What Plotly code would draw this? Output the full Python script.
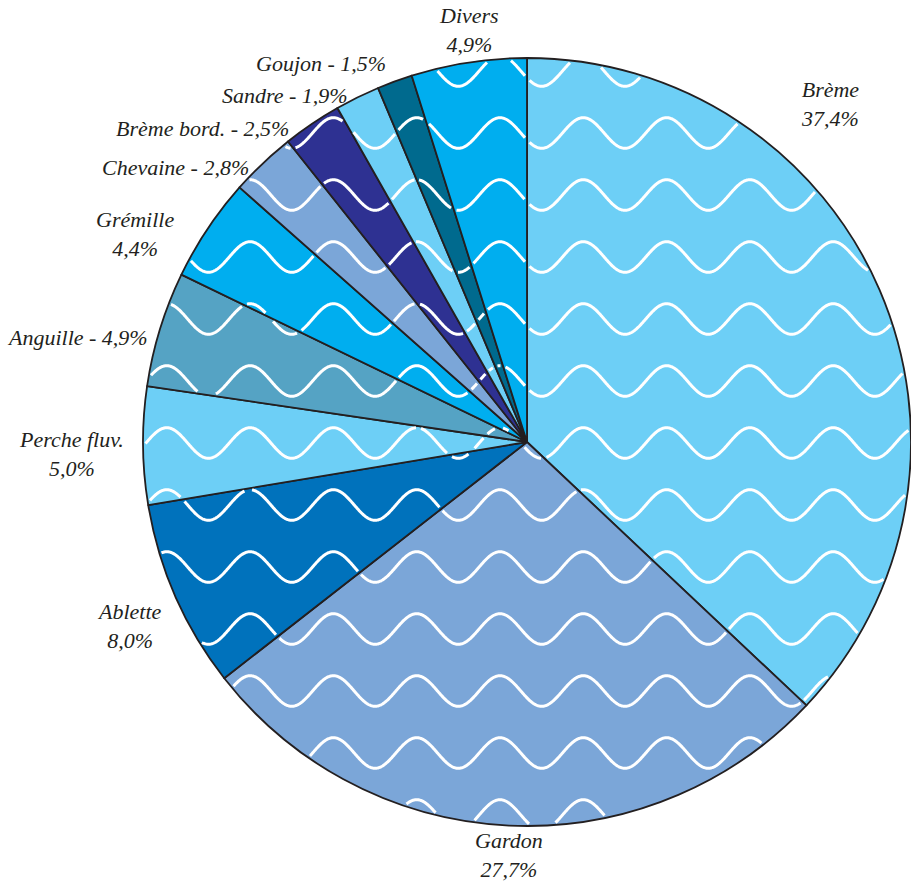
import numpy as np
import plotly.graph_objects as go

# ---------------- data ----------------
labels = ["Brème", "Gardon", "Ablette", "Perche fluv.", "Anguille", "Grémille",
          "Chevaine", "Brème bord.", "Sandre", "Goujon", "Divers"]
values = [37.4, 27.7, 8.0, 5.0, 4.9, 4.4, 2.8, 2.5, 1.9, 1.5, 4.9]
colors = ["#6DCFF6", "#7BA6D8", "#0072BC", "#6DCFF6", "#55A3C4", "#00AEEF",
          "#7BA6D8", "#2E3192", "#6DCFF6", "#006A8E", "#00AEEF"]
two_line = [True, True, True, True, False, True, False, False, False, False, True]

# ---------------- layout constants ----------------
W, H = 911, 883
CX, CY, R = 527, 442, 384
TXT = "#231F20"
FONT = dict(family="Liberation Serif, Times New Roman, serif", size=22, color=TXT, style="italic")

# label anchor positions in pixels (x center, y center of the label block)
label_pos = {
    "Brème": (830, 104), "Gardon": (509, 855), "Ablette": (129, 626),
    "Perche fluv.": (71, 454), "Anguille": (77, 337), "Grémille": (135, 234),
    "Chevaine": (175, 168), "Brème bord.": (202, 128), "Sandre": (285, 95),
    "Goujon": (321, 63), "Divers": (469, 30),
}

fig = go.Figure(go.Pie(
    labels=labels, values=values, sort=False, direction="clockwise", rotation=0,
    marker=dict(colors=colors, line=dict(color=TXT, width=1.8)),
    textinfo="none", hoverinfo="label+value", showlegend=False,
    domain=dict(x=[(CX - R) / W, min(1.0, (CX + R) / W)],
                y=[1 - (CY + R) / H, 1 - (CY - R) / H]),
))

def fmt(v):
    return f"{v:.1f}".replace(".", ",") + "%"

ann = []
for lab, val, tl in zip(labels, values, two_line):
    px, py = label_pos[lab]
    text = f"{lab}<br>{fmt(val)}" if tl else f"{lab} - {fmt(val)}"
    ann.append(dict(text=text, x=px / W, y=1 - py / H,
                    xref="paper", yref="paper", xanchor="center", yanchor="middle",
                    align="center", showarrow=False, font=FONT, borderpad=0))

# ---------------- decorative wave texture (clipped to the pie) ----------------
period, spacing, amp = 83.3, 62.0, 15.3
x_ref, y_ref = 500.0, 71.0
tot = float(sum(values))
bounds = np.cumsum([0.0] + values) / tot * 2 * np.pi
xs = np.arange(CX - R, CX + R + 0.5, 0.5)
path_parts = []
for k in range(-2, 16):
    ym = y_ref + spacing * k
    ys = ym - amp * np.cos(2 * np.pi * (xs - x_ref) / period)
    dx, dy = xs - CX, ys - CY
    rho = np.hypot(dx, dy)
    ok = rho <= R - 2.0
    th = np.mod(np.arctan2(dx, -dy), 2 * np.pi)
    for b in bounds:
        d = th - b
        near = (rho * np.abs(np.sin(d)) < 2.0) & (np.cos(d) > 0)
        ok &= ~near
    seg = []
    for x, y, g in zip(xs, ys, ok):
        if g:
            seg.append((x, y))
        else:
            if len(seg) > 1:
                path_parts.append("M" + "L".join(f"{a / W:.5f},{1 - c / H:.5f}" for a, c in seg))
            seg = []
    if len(seg) > 1:
        path_parts.append("M" + "L".join(f"{a / W:.5f},{1 - c / H:.5f}" for a, c in seg))

shapes = [dict(type="path", path=" ".join(path_parts), xref="paper", yref="paper",
               line=dict(color="white", width=3), layer="above")]

fig.update_layout(
    width=W, height=H, margin=dict(l=0, r=0, t=0, b=0),
    paper_bgcolor="white", plot_bgcolor="white",
    annotations=ann, shapes=shapes,
)

fig.write_html("out.html")
